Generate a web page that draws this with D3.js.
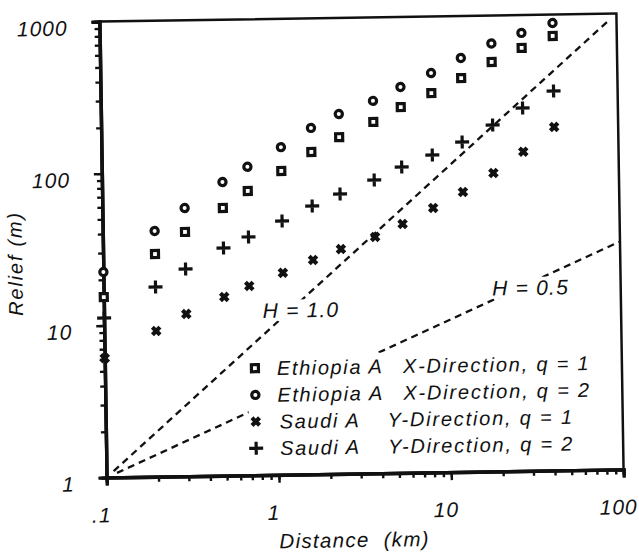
<!DOCTYPE html>
<html>
<head>
<meta charset="utf-8">
<script src="https://cdn.jsdelivr.net/npm/d3@7"></script>
<style>
    body { margin: 0; background: #fff; }
    svg text { font-family: "Liberation Sans", Arial, sans-serif; font-style: italic; fill: #111; }
</style>
</head>
<body>
<div id="chart"></div>
<script>
// Distance (km) of each lag, shared by all four series
const distances = [0.1, 0.2, 0.3, 0.5, 0.7, 1.1, 1.65, 2.4, 3.8, 5.5, 8.3, 12.4, 18.7, 28, 42.5];

// Relief (m)
const ethiopiaXq1 = [15.4, 29.2, 40.5, 57.7, 74.2, 99.7, 132, 164, 205, 255, 313, 390, 494, 607, 722];
const ethiopiaXq2 = [22.5, 41.4, 58.2, 85.5, 107, 143, 190, 233, 282, 346, 424, 529, 654, 762, 879];
const saudiYq1 = [6.1, 9.1, 11.7, 15.0, 17.6, 21.3, 25.7, 30.1, 35.9, 43.4, 54.9, 69.4, 91.9, 126, 182];
const saudiYq2 = [11.2, 17.7, 23.1, 31.5, 37.0, 46.7, 58.2, 69.3, 85.1, 103, 122.5, 148, 190, 244, 314];

// reference lines (end points) and where their labels sit
const lineH10 = [[0.11, 1.1], [88, 880]];
const lineH05 = [[0.115, 1.07], [100, 31.6]];
const labelH10 = { text: "H = 1.0", at: [1.39, 12.1] };
const labelH05 = { text: "H = 0.5", at: [30, 16.1] };

const xTickValues = [0.1, 1, 10, 100];
const xTickLabels = [".1", "1", "10", "100"];
const yTickValues = [1, 10, 100, 1000];
const yTickLabels = ["1", "10", "100", "1000"];

const seriesNames = [
    ["Ethiopia A", "X-Direction, q = 1"],
    ["Ethiopia A", "X-Direction, q = 2"],
    ["Saudi A", "Y-Direction, q = 1"],
    ["Saudi A", "Y-Direction, q = 2"]
];

class ReliefChart {
    constructor({ parentElement }) {
        this.parentElement = parentElement;
        this.initVis();
    }

    initVis() {
        const vis = this;

        vis.svg = d3.select(vis.parentElement)
            .append("svg")
            .attr("width", 639)
            .attr("height", 552);

        // the scanned figure is tilted a little
        vis.g = vis.svg.append("g")
            .attr("transform", "rotate(-0.9 362 245)");

        vis.x = d3.scaleLog().domain([0.1, 100]).range([103, 620]);
        vis.y = d3.scaleLog().domain([1, 1000]).range([473.5, 17.5]);

        vis.series = [
            { values: ethiopiaXq1, shape: "square" },
            { values: ethiopiaXq2, shape: "circle" },
            { values: saudiYq1, shape: "cross" },
            { values: saudiYq2, shape: "plus" }
        ];

        vis.drawAxes();
        vis.drawLines();
        vis.drawPoints();
        vis.drawLegend();
    }

    drawAxes() {
        const vis = this;
        const x = vis.x, y = vis.y;

        // frame
        vis.g.append("rect")
            .attr("x", x.range()[0])
            .attr("y", y.range()[1])
            .attr("width", x.range()[1] - x.range()[0])
            .attr("height", y.range()[0] - y.range()[1])
            .attr("fill", "none")
            .attr("stroke", "#111")
            .attr("stroke-width", 2.5);

        // minor ticks
        const xMinor = vis.g.append("g")
            .attr("transform", `translate(0,${y.range()[0]})`)
            .call(d3.axisBottom(x).tickValues(x.ticks()).tickSize(5).tickFormat(""));
        const yMinor = vis.g.append("g")
            .attr("transform", `translate(${x.range()[0]},0)`)
            .call(d3.axisLeft(y).tickValues(y.ticks()).tickSize(5).tickFormat(""));

        // major ticks with labels
        const xAxis = vis.g.append("g")
            .attr("transform", `translate(0,${y.range()[0]})`)
            .call(d3.axisBottom(x).tickValues(xTickValues).tickSize(8).tickPadding(22)
                .tickFormat((d, i) => xTickLabels[i]));
        const yAxis = vis.g.append("g")
            .attr("transform", `translate(${x.range()[0]},0)`)
            .call(d3.axisLeft(y).tickValues(yTickValues).tickSize(8).tickPadding(24)
                .tickFormat((d, i) => yTickLabels[i]));

        [xMinor, yMinor, xAxis, yAxis].forEach(a => {
            a.selectAll("line").attr("stroke", "#111").attr("stroke-width", 2.4);
            a.select(".domain").attr("stroke", "#111").attr("stroke-width", 3.4);
        });

        xAxis.selectAll("text")
            .attr("dx", -6)
            .style("font-size", "21px")
            .style("letter-spacing", "1px");
        yAxis.selectAll("text")
            .attr("dy", "0.62em")
            .style("font-size", "21px")
            .style("letter-spacing", "1px");

        // axis titles
        vis.g.append("text")
            .attr("x", 350)
            .attr("y", 547)
            .attr("text-anchor", "middle")
            .style("font-size", "20.5px")
            .style("letter-spacing", "1.3px")
            .attr("xml:space", "preserve")
            .text("Distance  (km)");

        vis.g.append("text")
            .attr("transform", "translate(22,258) rotate(-90)")
            .attr("text-anchor", "middle")
            .style("font-size", "20px")
            .style("letter-spacing", "1.8px")
            .text("Relief (m)");
    }

    drawLines() {
        const vis = this;
        const line = d3.line().x(d => vis.x(d[0])).y(d => vis.y(d[1]));

        vis.g.selectAll(".hline")
            .data([lineH10, lineH05])
            .enter()
            .append("path")
            .attr("class", "hline")
            .attr("d", line)
            .attr("fill", "none")
            .attr("stroke", "#111")
            .attr("stroke-width", 2.3)
            .attr("stroke-dasharray", "7,5");

        // labels sit on the lines with a white patch under them
        [labelH10, labelH05].forEach(l => {
            const grp = vis.g.append("g");
            const rect = grp.append("rect").attr("fill", "#fff");
            const t = grp.append("text")
                .attr("x", vis.x(l.at[0]))
                .attr("y", vis.y(l.at[1]))
                .attr("dy", "0.36em")
                .attr("text-anchor", "middle")
                .style("font-size", "21px")
                .style("letter-spacing", "1.2px")
                .text(l.text);
            const bb = t.node().getBBox();
            rect.attr("x", bb.x - 2).attr("y", bb.y + 1)
                .attr("width", bb.width + 4).attr("height", bb.height - 2);
        });
    }

    marker(sel, shape) {
        if (shape === "square") {
            sel.append("rect")
                .attr("x", -3.5).attr("y", -3.5)
                .attr("width", 7).attr("height", 7)
                .attr("fill", "#fff").attr("stroke", "#111").attr("stroke-width", 3.2);
        } else if (shape === "circle") {
            sel.append("circle")
                .attr("r", 3.6)
                .attr("fill", "#fff").attr("stroke", "#111").attr("stroke-width", 3.2);
        } else if (shape === "cross") {
            sel.append("path")
                .attr("d", "M-3.8,-3.8L3.8,3.8M3.8,-3.8L-3.8,3.8")
                .attr("stroke", "#111").attr("stroke-width", 4.2);
        } else {
            sel.append("path")
                .attr("d", "M-7,0H7M0,-6.5V6.5")
                .attr("stroke", "#111").attr("stroke-width", 3.2);
        }
    }

    drawPoints() {
        const vis = this;

        vis.series.forEach(s => {
            const pts = vis.g.append("g")
                .selectAll("g")
                .data(s.values.map((v, i) => ({ d: distances[i], v })))
                .enter()
                .append("g")
                .attr("transform", p => `translate(${vis.x(p.d)},${vis.y(p.v)})`);
            vis.marker(pts, s.shape);
        });
    }

    drawLegend() {
        const vis = this;

        const lg = vis.g.append("g");
        lg.append("rect")
            .attr("x", 246).attr("y", 353)
            .attr("width", 372).attr("height", 118)
            .attr("fill", "#fff");

        vis.series.forEach((s, i) => {
            const row = lg.append("g")
                .attr("transform", `translate(253,${366.5 + i * 26.7})`);
            vis.marker(row, s.shape);
            const isEthiopia = i < 2;
            row.append("text")
                .attr("x", isEthiopia ? 22 : 24)
                .attr("dy", "0.36em")
                .style("font-size", "20px")
                .style("letter-spacing", "1.6px")
                .text(seriesNames[i][0]);
            row.append("text")
                .attr("x", isEthiopia ? 148 : 132)
                .attr("dy", "0.36em")
                .style("font-size", "20px")
                .style("letter-spacing", "1.8px")
                .text(seriesNames[i][1]);
        });
    }
}

document.addEventListener("DOMContentLoaded", () => {
    new ReliefChart({ parentElement: "#chart" });
});
</script>
</body>
</html>
